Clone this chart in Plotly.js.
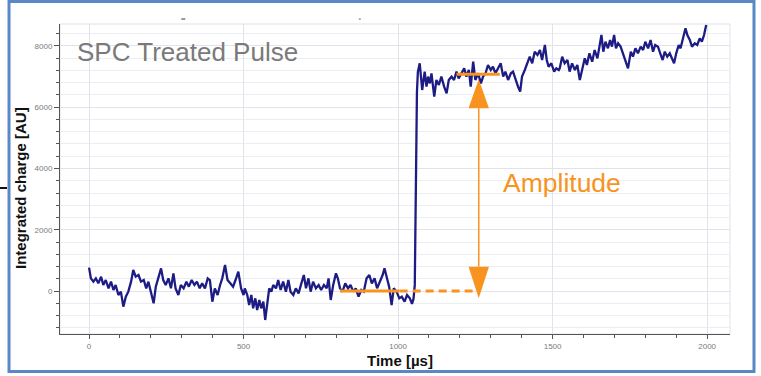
<!DOCTYPE html>
<html>
<head>
<meta charset="utf-8">
<script src="https://cdn.plot.ly/plotly-3.0.1.min.js"></script>
<style>
  html, body { margin: 0; padding: 0; background: #ffffff; }
  #chart { width: 761px; height: 376px; }
</style>
</head>
<body>
<div id="chart"></div>
<script>
// ---- Data ----
const timeUs = [
  0,6,14,22,30,39,46,54,63,71,79,86,95,103,111,119,127,136,143,151,160,168,177,185,192,200,209,216,224,233,
  240,248,257,265,273,280,289,297,306,315,323,332,341,349,358,366,375,384,391,399,407,416,424,431,440,448,457,466,474,483,492,500,
  504,512,518,525,531,538,544,551,557,564,570,577,583,590,596,605,612,620,628,637,645,652,661,669,678,687,695,702,710,717,
  725,734,743,751,760,769,775,782,790,799,805,812,820,829,838,846,855,863,872,881,889,898,907,915,924,932,941,950,956,963,
  971,979,986,995,1004,1012,1021,1029,1038,
  1045,1050,1054,1056,1058,1061,1064,
  1070,1078,1086,1092,1097,1103,1108,1117,1124,1132,1140,1149,1157,1164,1173,1181,1189,1196,1205,1214,1221,1229,1235,1243,1250,
  1259,1268,1275,1283,1291,1300,1307,1315,1324,1332,1340,1347,1356,1365,1372,1380,1388,1395,1401,1410,1419,1426,1434,1442,1451,
  1459,1466,1475,1481,1487,1496,1505,1512,1520,
  1523,1531,1539,1548,1555,1563,1572,1580,1588,1595,1604,1611,1619,1628,1636,1645,1652,1658,1664,1671,1679,1686,1692,1699,1705,
  1712,1720,1728,1735,1744,1753,1760,1768,1776,1785,1793,1800,1809,1817,1825,1832,1841,1850,1856,1863,1871,1879,1886,1893,1900,
  1908,1914,1922,1930,1936,1944,1951,1960,1968,1976,1983,1990,1997
];
const chargeAU = [
  762,413,305,413,250,468,196,359,87,305,33,196,-131,-22,-512,-185,-22,305,686,468,522,305,359,87,305,-22,-403,141,413,740,
  359,196,413,87,577,87,-131,196,87,305,141,359,196,305,87,250,87,413,359,-349,87,-131,196,413,849,359,250,141,359,631,87,-131,
  87,-131,-457,-131,-566,-240,-620,-294,-566,-349,-947,-457,87,-22,196,87,359,33,305,-22,359,-22,-131,87,-76,250,522,87,413,-22,
  305,87,196,33,196,87,413,-294,196,577,413,87,-22,250,87,196,-22,87,-185,33,-22,413,522,250,413,87,305,522,740,413,
  141,-457,87,-22,-240,-185,-349,-131,-240,
  -420,-250,200,2200,4600,6500,7150,
  7434,6563,7162,6672,6999,6781,7108,6346,6890,6727,6999,6672,6455,6890,6999,6890,7162,6944,7108,7271,6999,7216,6672,7489,6890,
  7108,6781,6999,7108,7380,7216,7325,7108,7271,7434,6999,7162,6890,7108,7162,6890,6672,6509,6999,7216,7434,7652,7434,7815,7706,
  7869,7543,8033,7543,7325,7434,7162,7271,7216,
  7271,7652,7434,7543,7162,7434,7216,7380,6890,7216,7597,7380,7760,7488,7869,7597,8087,8359,7815,8141,7924,8196,7978,8359,7924,
  8087,7978,7760,7543,7271,7815,7652,7924,7760,7978,7869,8141,7924,8196,7815,8033,7978,7706,7543,7815,7652,7760,7597,7434,7760,
  8033,7924,8250,8577,8359,8196,7978,8087,8033,8250,8141,8359,8686
];

// Amplitude markers (data units)
const baselineLevel = 0;
const plateauLevel = 7075;
const baselineSolidSpan = [812, 1005];
const baselineDashSpan = [1005, 1258];
const plateauSpan = [1189, 1329];
const arrowTime = 1261;

// Text
const chartTitle = 'SPC Treated Pulse';
const amplitudeLabel = 'Amplitude';
const xTitle = 'Time [µs]';
const yTitle = 'Integrated charge [AU]';

const ORANGE = '#F7931E';
const NAVY = '#1c1c84';

const trace = {
  x: timeUs, y: chargeAU, type: 'scatter', mode: 'lines',
  line: { color: NAVY, width: 2.3 }, hoverinfo: 'skip'
};

const halfW = 33;
const shapes = [
  { type: 'rect', xref: 'paper', yref: 'paper', x0: 0, x1: 1, y0: 0, y1: 1,
    line: { color: '#e2e2ea', width: 1 }, layer: 'below' },
  { type: 'line', xref: 'x', yref: 'y', x0: baselineSolidSpan[0], x1: baselineSolidSpan[1], y0: baselineLevel, y1: baselineLevel,
    line: { color: ORANGE, width: 3 } },
  { type: 'line', xref: 'x', yref: 'y', x0: baselineDashSpan[0], x1: baselineDashSpan[1], y0: baselineLevel, y1: baselineLevel,
    line: { color: ORANGE, width: 3, dash: '8px,5px' } },
  { type: 'line', xref: 'x', yref: 'y', x0: plateauSpan[0], x1: plateauSpan[1], y0: plateauLevel, y1: plateauLevel,
    line: { color: ORANGE, width: 3 } },
  { type: 'line', xref: 'x', yref: 'y', x0: arrowTime, x1: arrowTime, y0: 800, y1: 5970,
    line: { color: ORANGE, width: 1.5 } },
  { type: 'path', xref: 'x', yref: 'y',
    path: `M ${arrowTime - halfW},5965 L ${arrowTime + halfW},5965 L ${arrowTime},${plateauLevel - 160} Z`,
    fillcolor: ORANGE, line: { width: 0 } },
  { type: 'path', xref: 'x', yref: 'y',
    path: `M ${arrowTime - halfW},795 L ${arrowTime + halfW},795 L ${arrowTime},-240 Z`,
    fillcolor: ORANGE, line: { width: 0 } },
  { type: 'rect', xref: 'paper', yref: 'paper', x0: -0.0761, x1: 1.0358, y0: -0.121, y1: 1.0726,
    line: { color: '#5a87c5', width: 3 } },
  { type: 'line', xref: 'paper', yref: 'paper', x0: -0.0896, x1: -0.0791, y0: 0.471, y1: 0.471,
    line: { color: '#111', width: 2 } },
  { type: 'line', xref: 'paper', yref: 'paper', x0: 0.181, x1: 0.187, y0: 1.016, y1: 1.016,
    line: { color: '#777', width: 1.5 } },
  { type: 'line', xref: 'paper', yref: 'paper', x0: 0.446, x1: 0.449, y0: 1.016, y1: 1.016,
    line: { color: '#999', width: 1.5 } }
];

const annotations = [
  { text: chartTitle, xref: 'paper', yref: 'paper', x: 0.0224, y: 0.911, xanchor: 'left', yanchor: 'middle',
    showarrow: false, font: { size: 26, color: '#7a7a7a' } },
  { text: amplitudeLabel, xref: 'paper', yref: 'paper', x: 0.658, y: 0.487, xanchor: 'left', yanchor: 'middle',
    showarrow: false, font: { size: 26.5, color: ORANGE } },
  { text: yTitle, xref: 'paper', yref: 'paper', x: -0.0582, y: 0.471, xanchor: 'center', yanchor: 'middle',
    textangle: -90, showarrow: false, font: { size: 15, color: '#111', weight: 'bold' } },
  { text: xTitle, xref: 'paper', yref: 'paper', x: 0.5075, y: -0.0839, xanchor: 'center', yanchor: 'middle',
    showarrow: false, font: { size: 15, color: '#111', weight: 'bold' } }
];

const axisCommon = {
  showline: true, linecolor: '#555', linewidth: 1,
  ticks: 'outside', tickcolor: '#555', tickwidth: 1,
  tickfont: { size: 8, color: '#7a7a7a' },
  showgrid: true, gridcolor: '#e2e2ea', gridwidth: 1,
  zeroline: false
};

const layout = {
  width: 761, height: 376,
  margin: { l: 60, r: 31, t: 24, b: 42, pad: 0 },
  paper_bgcolor: '#ffffff', plot_bgcolor: '#ffffff',
  showlegend: false,
  font: { family: 'Liberation Sans, Arial, Helvetica, sans-serif' },
  xaxis: Object.assign({}, axisCommon, {
    range: [-94, 2074], tick0: 0, dtick: 500, ticklen: 4,
    minor: { dtick: 100, ticks: 'outside', ticklen: 3, tickcolor: '#555', showgrid: false }
  }),
  yaxis: Object.assign({}, axisCommon, {
    range: [-1404, 8718], tick0: 0, dtick: 2000, ticklen: 5,
    minor: { dtick: 400, ticks: 'outside', ticklen: 3, tickcolor: '#555', showgrid: true, gridcolor: '#ececf3' }
  }),
  shapes: shapes,
  annotations: annotations
};

Plotly.newPlot('chart', [trace], layout, { displayModeBar: false, staticPlot: true });
</script>
</body>
</html>
